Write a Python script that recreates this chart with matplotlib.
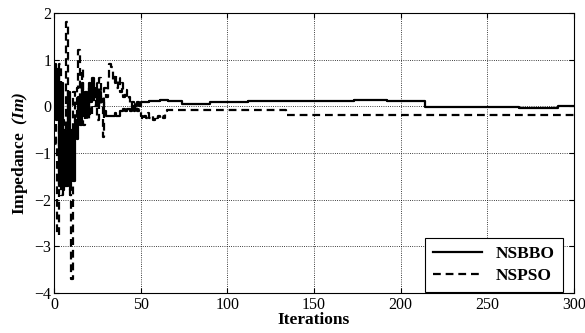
import matplotlib.pyplot as plt

plt.rcParams['font.family'] = 'Liberation Serif'
plt.rcParams['mathtext.fontset'] = 'custom'
plt.rcParams['mathtext.bfit'] = 'Liberation Serif:italic:bold'

# NSBBO (solid), iteration -> impedance
bbo_x = list(range(0, 51)) + [55, 61, 66, 74, 90, 112, 173, 192, 214, 268, 291, 300]
bbo_y = [0.9, -0.3, 0.8, -1.7, 0.5, -1.8, -0.5, -1.7, 0.3, -1.8,
         -0.5, -1.6, -0.3, -0.7, 0.2, -0.4, 0.5, -0.2, 0.3, -0.1,
         0.5, 0.1, 0.6, 0.2, 0.4, 0.0, 0.3, 0.15, 0.1, -0.1,
         -0.2, -0.2, -0.2, -0.2, -0.2, -0.15, -0.2, -0.2, -0.1, -0.1,
         -0.05, -0.1, -0.05, -0.05, -0.1, 0.0, -0.1, 0.0, 0.1, 0.0,
         0.1, 0.11, 0.13, 0.11, 0.06, 0.085, 0.11, 0.135, 0.11, -0.02,
         -0.04, 0.0, 0.0]

# NSPSO (dashed)
pso_x = list(range(0, 66)) + [134, 300]
pso_y = [0.4, -0.8, -2.75, 0.9, -1.9, -0.3, -1.7, 1.8, -0.5, -1.9,
         -3.7, 0.3, -0.6, 0.4, 1.2, -0.1, 0.8, -0.4, 0.2, -0.3,
         0.4, -0.2, 0.3, 0.0, 0.5, -0.3, 0.6, 0.0, -0.65, 0.4,
         0.2, 0.6, 0.9, 0.85, 0.5, 0.7, 0.4, 0.6, 0.3, 0.5,
         0.2, 0.35, 0.15, 0.2, 0.0, 0.1, -0.05, 0.05, -0.1, -0.05,
         -0.2, -0.3, -0.2, -0.25, -0.15, -0.25, -0.2, -0.3, -0.2, -0.25,
         -0.2, -0.25, -0.2, -0.25, -0.1, -0.085, -0.18, -0.18]

fig = plt.figure(figsize=(5.85, 3.33), dpi=100)
ax = fig.add_axes([0.0923, 0.12, 0.889, 0.841])
ax.plot(bbo_x, bbo_y, color='black', lw=1.6, drawstyle='steps-post', label='NSBBO')
ax.plot(pso_x, pso_y, color='black', lw=1.6, ls=(0, (3.5, 2.2)), drawstyle='steps-post', label='NSPSO')

ax.set_xlim(0, 300)
ax.set_ylim(-4, 2)
ax.set_xticks(range(0, 301, 50))
ax.set_yticks(range(-4, 3))
ax.grid(True, color='black', ls=':', lw=0.6)
ax.tick_params(direction='in', top=True, right=True, labelsize=11.5)
ax.tick_params(axis='x', pad=3)
ax.tick_params(axis='y', pad=2)
for s in ax.spines.values():
    s.set_linewidth(0.8)

ax.set_xlabel('Iterations', fontsize=12.5, fontweight='bold', labelpad=-1)
ax.set_ylabel(r'Impedance  $\mathbfit{(Im)}$', fontsize=12.5, fontweight='bold', labelpad=3)

leg = ax.legend(loc='lower right', bbox_to_anchor=(0.978, 0.004), borderaxespad=0,
                prop={'weight': 'bold', 'size': 12.5}, fancybox=False, framealpha=1,
                handlelength=2.8, borderpad=0.45, labelspacing=0.35)
leg.get_frame().set_edgecolor('black')
leg.get_frame().set_linewidth(0.8)

fig.savefig('out.png', dpi=100)
